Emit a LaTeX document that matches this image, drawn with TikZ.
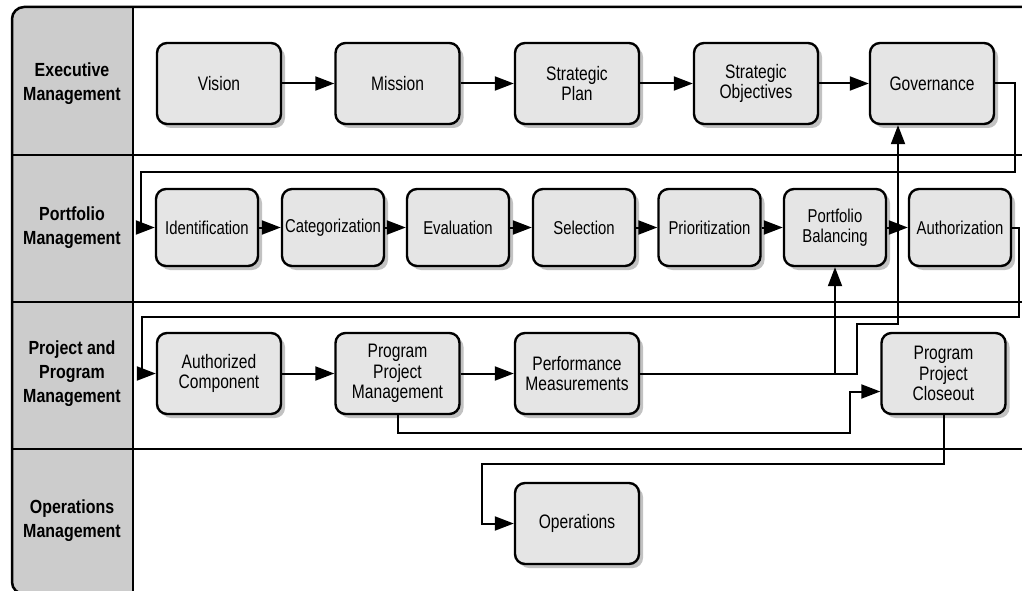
\documentclass[tikz,border=0pt]{standalone}
\usepackage{fontspec}
\newfontfamily\boxfont{Liberation Sans}[FakeStretch=0.8]
\newfontfamily\lanefont{Liberation Sans}[FakeStretch=0.84]
\usetikzlibrary{arrows.meta,shadows}
\definecolor{lanegray}{HTML}{CCCCCC}
\definecolor{boxfill}{HTML}{E5E5E5}
\definecolor{shadowgray}{HTML}{C2C2C2}

\begin{document}
\begin{tikzpicture}[x=1pt,y=-1pt,
  stepbox/.style={draw=black, line width=2.4pt, rounded corners=10pt, fill=boxfill,
    minimum width=124pt, minimum height=81pt, align=center, inner sep=1pt,
    font=\boxfont\fontsize{19.5}{20.5}\selectfont,
    drop shadow={shadow xshift=4pt, shadow yshift=-4pt, fill=shadowgray, opacity=1}},
  pbox/.style={stepbox, minimum width=102pt, minimum height=77pt,
    font=\boxfont\fontsize{18.6}{20.5}\selectfont},
  lane/.style={font=\lanefont\bfseries\fontsize{19}{24}\selectfont, align=center},
  arr/.style={line width=2pt, -{Triangle[length=19pt,width=14pt]}},
  frameline/.style={line width=2.5pt}]

\useasboundingbox (0,0) rectangle (1022,591);
\clip (0,0) rectangle (1022,591);

% swimlane frame with a shaded title column
\begin{scope}
  \clip[rounded corners=12pt] (12,7) rectangle (1060,594);
  \fill[white] (12,7) rectangle (1060,594);
  \fill[lanegray] (12,7) rectangle (133,594);
\end{scope}
\draw[frameline, rounded corners=12pt] (12,7) rectangle (1060,594);
\draw[frameline] (133,7) -- (133,594);
\foreach \y in {155,302,449} \draw[frameline] (12,\y) -- (1060,\y);

% lane titles
\node[lane] (lexec) at (72,84) {Executive\\Management};
\node[lane] (lport) at (72,228) {Portfolio\\Management};
\node[lane] (lproj) at (72,374) {Project and\\Program\\Management};
\node[lane] (lops)  at (72,521) {Operations\\Management};

% executive management
\node[stepbox] (vision)  at (219,83.5)  {Vision};
\node[stepbox] (mission) at (397.5,83.5) {Mission};
\node[stepbox] (splan)   at (577,83.5)  {Strategic\\Plan};
\node[stepbox] (sobj)    at (756,83.5)  {Strategic\\Objectives};
\node[stepbox] (gov)     at (932,83.5)  {Governance};

% portfolio management
\node[pbox] (ident) at (207,227.5)   {Identification};
\node[pbox] (categ) at (333,227.5)   {Categorization};
\node[pbox] (evalu) at (458,227.5)   {Evaluation};
\node[pbox] (selec) at (584,227.5)   {Selection};
\node[pbox] (prior) at (709.5,227.5) {Prioritization};
\node[pbox] (pbal)  at (835,227.5)   {Portfolio\\Balancing};
\node[pbox] (authz) at (960,227.5)   {Authorization};

% project and program management
\node[stepbox] (acomp) at (219,373.5)   {Authorized\\Component};
\node[stepbox] (ppm)   at (397.5,373.5) {Program\\Project\\Management};
\node[stepbox] (perf)  at (577,373.5)   {Performance\\Measurements};
\node[stepbox] (close) at (943.5,373.5) {Program\\Project\\Closeout};

% operations management
\node[stepbox] (ops) at (577,523.5) {Operations};

% flow
\draw[arr] (vision) -- (mission);
\draw[arr] (mission) -- (splan);
\draw[arr] (splan) -- (sobj);
\draw[arr] (sobj) -- (gov);
\draw[arr] (gov.east) -| (1015,172) -- (141,172) |- (ident.west);

\draw[arr] (ident) -- (categ);
\draw[arr] (categ) -- (evalu);
\draw[arr] (evalu) -- (selec);
\draw[arr] (selec) -- (prior);
\draw[arr] (prior) -- (pbal);
\draw[arr] (pbal) -- (authz);
\draw[arr] (authz.east) -| (1019,317) -- (142,317) |- (acomp.west);

\draw[arr] (acomp) -- (ppm);
\draw[arr] (ppm) -- (perf);
\draw[arr] (perf.east) -| (pbal.south);
\coordinate (govin) at ([xshift=-34pt]gov.south);
\draw[arr] (perf.east) -- (857,373.5) -- (857,324) -| (govin);
\draw[arr] (ppm.south) |- (850,433) |- ([yshift=-18pt]close.west);
\draw[arr] (close.south) |- (482,464) |- (ops.west);

\end{tikzpicture}
\end{document}
